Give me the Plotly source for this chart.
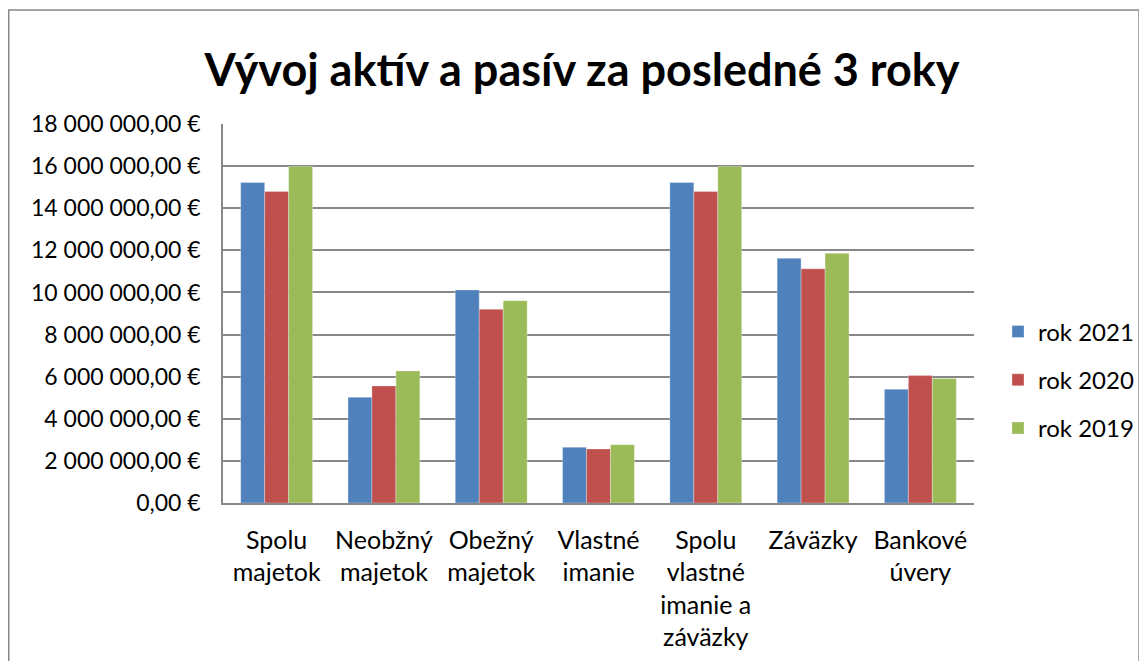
import plotly.graph_objects as go

categories = ["Spolu<br>majetok", "Neobžný<br>majetok", "Obežný<br>majetok", "Vlastné<br>imanie",
              "Spolu<br>vlastné<br>imanie a<br>záväzky", "Záväzky", "Bankové<br>úvery"]
series_names = ["rok 2021", "rok 2020", "rok 2019"]
rok_2021 = [15220000, 5020000, 10120000, 2650000, 15220000, 11620000, 5400000]
rok_2020 = [14790000, 5560000, 9200000, 2570000, 14790000, 11120000, 6050000]
rok_2019 = [15980000, 6270000, 9610000, 2770000, 15980000, 11860000, 5910000]
colors = ["#4F81BD", "#C0504D", "#9BBB59"]
tick_vals = [0, 2000000, 4000000, 6000000, 8000000, 10000000, 12000000, 14000000, 16000000, 18000000]
tick_text = ["0,00 €", "2 000 000,00 €", "4 000 000,00 €", "6 000 000,00 €", "8 000 000,00 €",
             "10 000 000,00 €", "12 000 000,00 €", "14 000 000,00 €", "16 000 000,00 €", "18 000 000,00 €"]
title_text = "Vývoj aktív a pasív za posledné 3 roky"

FONT = "Lato, Calibri, Carlito, sans-serif"

fig = go.Figure()
for i, (name, vals) in enumerate(zip(series_names, [rok_2021, rok_2020, rok_2019])):
    fig.add_trace(go.Bar(
        x=categories, y=vals, name=name, legendgroup=name,
        marker=dict(color=colors[i], line=dict(width=0.5, color="rgba(255,255,255,0.6)")),
    ))

# page is offset by 8px body margin; positions below are in figure coordinates
W, H = 1147, 661
L, R, T, B = 215, 181, 116, 166
pw, ph = W - L - R, H - T - B
px = lambda x: (x - L) / pw
py = lambda y: (H - B - y) / ph

fig.update_layout(
    width=W, height=H,
    margin=dict(l=L, r=R, t=T, b=B, autoexpand=False),
    paper_bgcolor="white", plot_bgcolor="white",
    barmode="group", bargap=0.33, bargroupgap=0,
    font=dict(family=FONT, size=23, color="black"),
    title=dict(text="<b>" + title_text + "</b>", x=574 / W, xanchor="center",
               y=1 - 62 / H, yanchor="middle", font=dict(size=45, family=FONT, color="black")),
    legend=dict(x=px(990), xanchor="left", y=py(372), yanchor="middle",
                tracegroupgap=14, font=dict(size=24, family=FONT), bgcolor="rgba(0,0,0,0)"),
    xaxis=dict(showline=True, linecolor="#888888", linewidth=1.5, ticks="", showgrid=False,
               ticklabelstandoff=14,
               tickfont=dict(size=25, family=FONT), fixedrange=True),
    yaxis=dict(range=[0, 18000000], tickvals=tick_vals, ticktext=tick_text,
               showgrid=True, gridcolor="#888888", gridwidth=1.5,
               showline=True, linecolor="#888888", linewidth=1.5,
               ticks="", ticklabelstandoff=16,
               tickfont=dict(size=23, family=FONT), zeroline=False, fixedrange=True),
    shapes=[dict(type="rect", xref="paper", yref="paper",
                 x0=px(0.75), x1=px(1131),
                 y0=py(700), y1=py(2),
                 line=dict(color="#888888", width=1.5), fillcolor="rgba(0,0,0,0)", layer="below")],
)

fig.write_html("out.html")
